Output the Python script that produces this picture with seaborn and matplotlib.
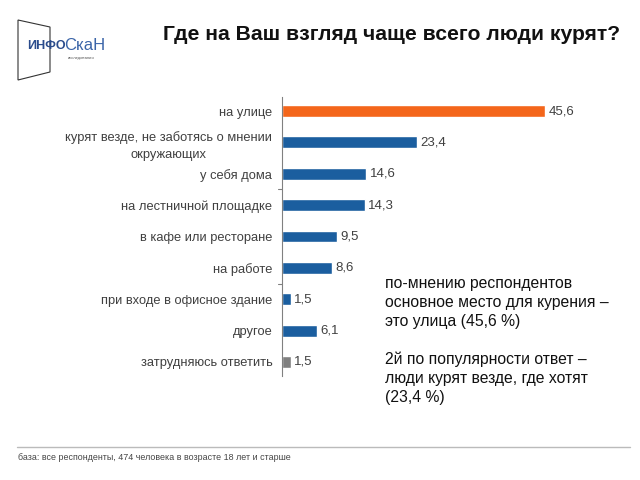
import numpy as np
import pandas as pd
import seaborn as sns
import matplotlib.pyplot as plt
from matplotlib.lines import Line2D
from matplotlib.patches import Polygon

# data
categories = ['на улице', 'курят везде, не заботясь о мнении\nокружающих', 'у себя дома',
              'на лестничной площадке', 'в кафе или ресторане', 'на работе',
              'при входе в офисное здание', 'другое', 'затрудняюсь ответить']
values = [45.6, 23.4, 14.6, 14.3, 9.5, 8.6, 1.5, 6.1, 1.5]
value_labels = ['45,6', '23,4', '14,6', '14,3', '9,5', '8,6', '1,5', '6,1', '1,5']
bar_colors = ['#F4661B'] + ['#1B5E9F'] * 7 + ['#7F7F7F']

df = pd.DataFrame({'cat': categories, 'val': values})

sns.set_style('white')
plt.rcParams['font.family'] = ['Liberation Sans', 'DejaVu Sans']

fig = plt.figure(figsize=(6.4, 4.8), dpi=100)
ax = fig.add_axes([282/640, 1-376/480, (600-282)/640, (376-97)/480])

sns.barplot(data=df, y='cat', x='val', hue='cat', palette=bar_colors, legend=False,
            width=0.38, saturation=1, ax=ax)
ax.set_xlim(0, (600-282)/5.77)
ax.set_ylim(8.45, -0.45)
ax.set_xlabel('')
ax.set_ylabel('')
ax.set_xticks([])
ax.tick_params(axis='y', length=0, pad=7, labelsize=9.3, labelcolor='#404040')
for lbl in ax.get_yticklabels():
    lbl.set_multialignment('center')
    lbl.set_linespacing(1.55)
for s in ['top', 'right', 'bottom']:
    ax.spines[s].set_visible(False)
ax.spines['left'].set_color('#808080')
ax.spines['left'].set_linewidth(0.8)
for yt in [2.5, 5.5]:
    ax.plot([-0.012, 0], [yt, yt], transform=ax.get_yaxis_transform(), color='#808080',
            lw=0.8, clip_on=False)

for i, (v, t) in enumerate(zip(values, value_labels)):
    ax.text(v + 0.6, i, t, va='center', ha='left', fontsize=9.5, color='#404040')

# title
fig.text(163/640, 1-35/480, 'Где на Ваш взгляд чаще всего люди курят?', fontsize=15.2,
         fontweight='bold', va='center', ha='left', color='#111111')

# logo
fig.patches.append(Polygon([[18/640, 1-20/480], [50/640, 1-27/480], [50/640, 1-72/480],
                            [18/640, 1-80/480]], closed=True, fill=False,
                           edgecolor='#333333', lw=0.8, transform=fig.transFigure))
fig.text(27/640, 1-46/480, 'ИНФО', fontsize=9, fontweight='bold', color='#2B4C8C',
         va='center', ha='left')
fig.text(64/640, 1-45/480, 'СкаН', fontsize=12, color='#3A64A8', va='center', ha='left')
fig.text(68/640, 1-58/480, 'исследования', fontsize=3, color='#555555', va='center', ha='left')

# annotation
fig.text(385/640, 1-276/480,
         'по-мнению респондентов\nосновное место для курения –\nэто улица (45,6 %)\n\n'
         '2й по популярности ответ –\nлюди курят везде, где хотят\n(23,4 %)',
         fontsize=11.3, va='top', ha='left', color='#111111', linespacing=1.32)

# footer
fig.add_artist(Line2D([17/640, 630/640], [1-447/480, 1-447/480], color='#BBBBBB', lw=1.0))
fig.text(18/640, 1-458/480, 'база: все респонденты, 474 человека в возрасте 18 лет и старше',
         fontsize=6.4, color='#444444', va='center', ha='left')

fig.savefig('out.png', dpi=100)
